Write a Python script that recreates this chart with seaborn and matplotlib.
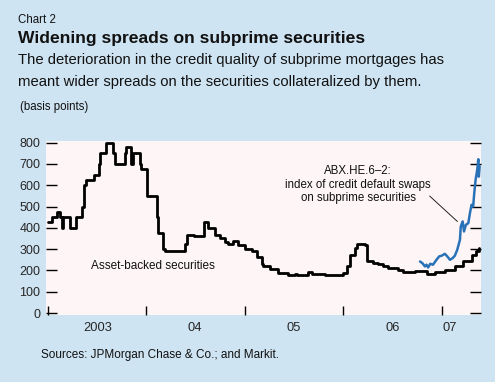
"""
Chart 2: widening spreads on subprime securities (basis points).
"""

import pandas as pd
import seaborn as sns
import matplotlib.pyplot as plt

# Asset-backed securities spread (step series)
abs_dates = [
    "2003-01-01", "2003-01-16", "2003-02-05", "2003-02-15", "2003-02-22", "2003-02-28",
    "2003-03-24", "2003-04-18", "2003-05-07", "2003-05-15", "2003-05-23", "2003-06-21",
    "2003-07-10", "2003-07-16", "2003-08-07", "2003-09-01", "2003-09-07", "2003-10-14",
    "2003-10-20", "2003-11-05", "2003-11-14", "2003-12-09", "2003-12-15",
    "2004-01-05", "2004-02-11", "2004-02-16", "2004-03-04", "2004-03-13", "2004-05-24",
    "2004-06-01", "2004-06-27", "2004-08-02", "2004-08-18", "2004-09-12", "2004-09-30",
    "2004-10-19", "2004-10-30", "2004-11-17", "2004-12-06",
    "2005-01-02", "2005-01-27", "2005-02-14", "2005-03-05", "2005-03-11", "2005-04-05",
    "2005-05-05", "2005-06-11", "2005-07-06", "2005-07-12", "2005-08-24", "2005-09-06",
    "2005-10-25",
    "2006-01-02", "2006-01-14", "2006-01-26", "2006-02-14", "2006-02-20", "2006-03-22",
    "2006-03-29", "2006-04-22", "2006-05-11", "2006-05-29", "2006-06-17", "2006-07-24",
    "2006-08-11", "2006-09-24", "2006-11-06", "2006-12-07",
    "2007-01-13", "2007-02-19", "2007-03-22", "2007-04-22", "2007-05-10", "2007-05-19",
]
abs_values = [
    425, 450, 475, 450, 400, 450,
    400, 450, 500, 600, 625, 650,
    700, 750, 800, 750, 700, 750,
    780, 700, 750, 700, 675,
    550, 450, 375, 300, 290, 325,
    365, 360, 425, 400, 365, 350,
    335, 325, 340, 320,
    300, 290, 265, 228, 220, 205,
    190, 178, 185, 178, 195, 185,
    178,
    188, 220, 272, 305, 325, 320,
    242, 237, 231, 219, 211, 203,
    191, 198, 184, 191,
    200, 219, 242, 273, 290, 305,
]

# ABX.HE.6-2 index of credit default swaps
abx_dates = [
    "2006-10-13", "2006-10-22", "2006-10-31", "2006-11-06", "2006-11-12", "2006-11-20",
    "2006-11-30", "2006-12-13", "2006-12-23", "2007-01-01", "2007-01-13", "2007-01-22",
    "2007-02-01", "2007-02-11", "2007-02-19", "2007-02-28", "2007-03-10", "2007-03-13",
    "2007-03-20", "2007-03-25", "2007-04-01", "2007-04-10", "2007-04-16", "2007-04-22",
    "2007-04-28", "2007-05-02", "2007-05-07", "2007-05-13", "2007-05-17", "2007-05-19",
    "2007-05-22",
]
abx_values = [
    242, 234, 219, 227, 214, 231,
    227, 250, 266, 269, 278, 266,
    250, 258, 269, 297, 344, 406,
    430, 383, 414, 422, 469, 508,
    500, 563, 625, 672, 722, 640,
    688,
]

year_labels = ["2003", "04", "05", "06", "07"]
year_starts = ["2003-01-01", "2004-01-01", "2005-01-01", "2006-01-01", "2007-01-01"]
label_dates = ["2003-07-05", "2004-07-01", "2005-07-01", "2006-07-03", "2007-02-01"]
y_ticks = [0, 100, 200, 300, 400, 500, 600, 700, 800]

BG = "#cfe4f2"
PLOT_BG = "#fef6f6"
BLUE = "#2a72b8"
FONT = ["Liberation Sans Narrow", "Liberation Sans", "DejaVu Sans"]

sns.set_theme(style="white")
plt.rcParams["font.family"] = FONT
plt.rcParams["text.color"] = "#111111"

abs_df = pd.DataFrame({"date": pd.to_datetime(abs_dates), "spread": abs_values})
abx_df = pd.DataFrame({"date": pd.to_datetime(abx_dates), "spread": abx_values})

fig = plt.figure(figsize=(4.95, 3.82), dpi=100, facecolor=BG)
ax = fig.add_axes([0.0939, 0.1754, 0.8778, 0.4542])
ax.set_facecolor(PLOT_BG)

sns.lineplot(data=abs_df, x="date", y="spread", ax=ax, color="black",
             linewidth=2.0, estimator=None, drawstyle="steps-post")
sns.lineplot(data=abx_df, x="date", y="spread", ax=ax, color=BLUE,
             linewidth=1.8, estimator=None)

ax.set_xlim(pd.Timestamp("2002-12-28"), pd.Timestamp("2007-05-27"))
ax.set_ylim(-9, 805)
for side in ["top", "bottom", "left", "right"]:
    ax.spines[side].set_visible(False)

ax.set_yticks(y_ticks)
ax.tick_params(axis="y", direction="in", length=8, width=1.0, color="black",
               left=True, right=True, labelsize=9.0, pad=4.5)

ax.set_xticks(pd.to_datetime(year_starts))
ax.set_xticklabels([])
ax.set_xticks(pd.to_datetime(label_dates), minor=True)
ax.set_xticklabels(year_labels, minor=True)
ax.tick_params(axis="x", which="major", direction="in", length=6.5, width=1.0,
               color="black", bottom=True)
ax.tick_params(axis="x", which="minor", length=0, labelsize=9.3, pad=5)
ax.set_xlabel("")
ax.set_ylabel("")
ax.grid(False)

ax.text(pd.Timestamp("2004-01-25"), 222, "Asset-backed securities",
        ha="center", va="center", fontsize=8.5)
ax.text(pd.Timestamp("2006-02-25"), 602,
        "ABX.HE.6\u20132:\nindex of credit default swaps\non subprime securities",
        ha="center", va="center", multialignment="center", fontsize=8.3,
        linespacing=1.17)
ax.annotate("", xy=(pd.Timestamp("2007-03-08"), 421),
            xytext=(pd.Timestamp("2006-11-10"), 558),
            arrowprops=dict(arrowstyle="-", color="#222222", lw=0.7))

fig.text(0.037, 0.941, "Chart 2", fontsize=8.3, va="baseline")
fig.text(0.036, 0.888, "Widening spreads on subprime securities",
         fontsize=12.6, fontweight="bold", va="baseline")
fig.text(0.036, 0.8325,
         "The deterioration in the credit quality of subprime mortgages has",
         fontsize=10.7, va="baseline")
fig.text(0.036, 0.775,
         "meant wider spreads on the securities collateralized by them.",
         fontsize=10.7, va="baseline")
fig.text(0.040, 0.712, "(basis points)", fontsize=8.3, va="baseline")
fig.text(0.083, 0.064, "Sources: JPMorgan Chase & Co.; and Markit.",
         fontsize=8.5, va="baseline")

fig.savefig("out.png", dpi=100, facecolor=BG)
plt.close(fig)
